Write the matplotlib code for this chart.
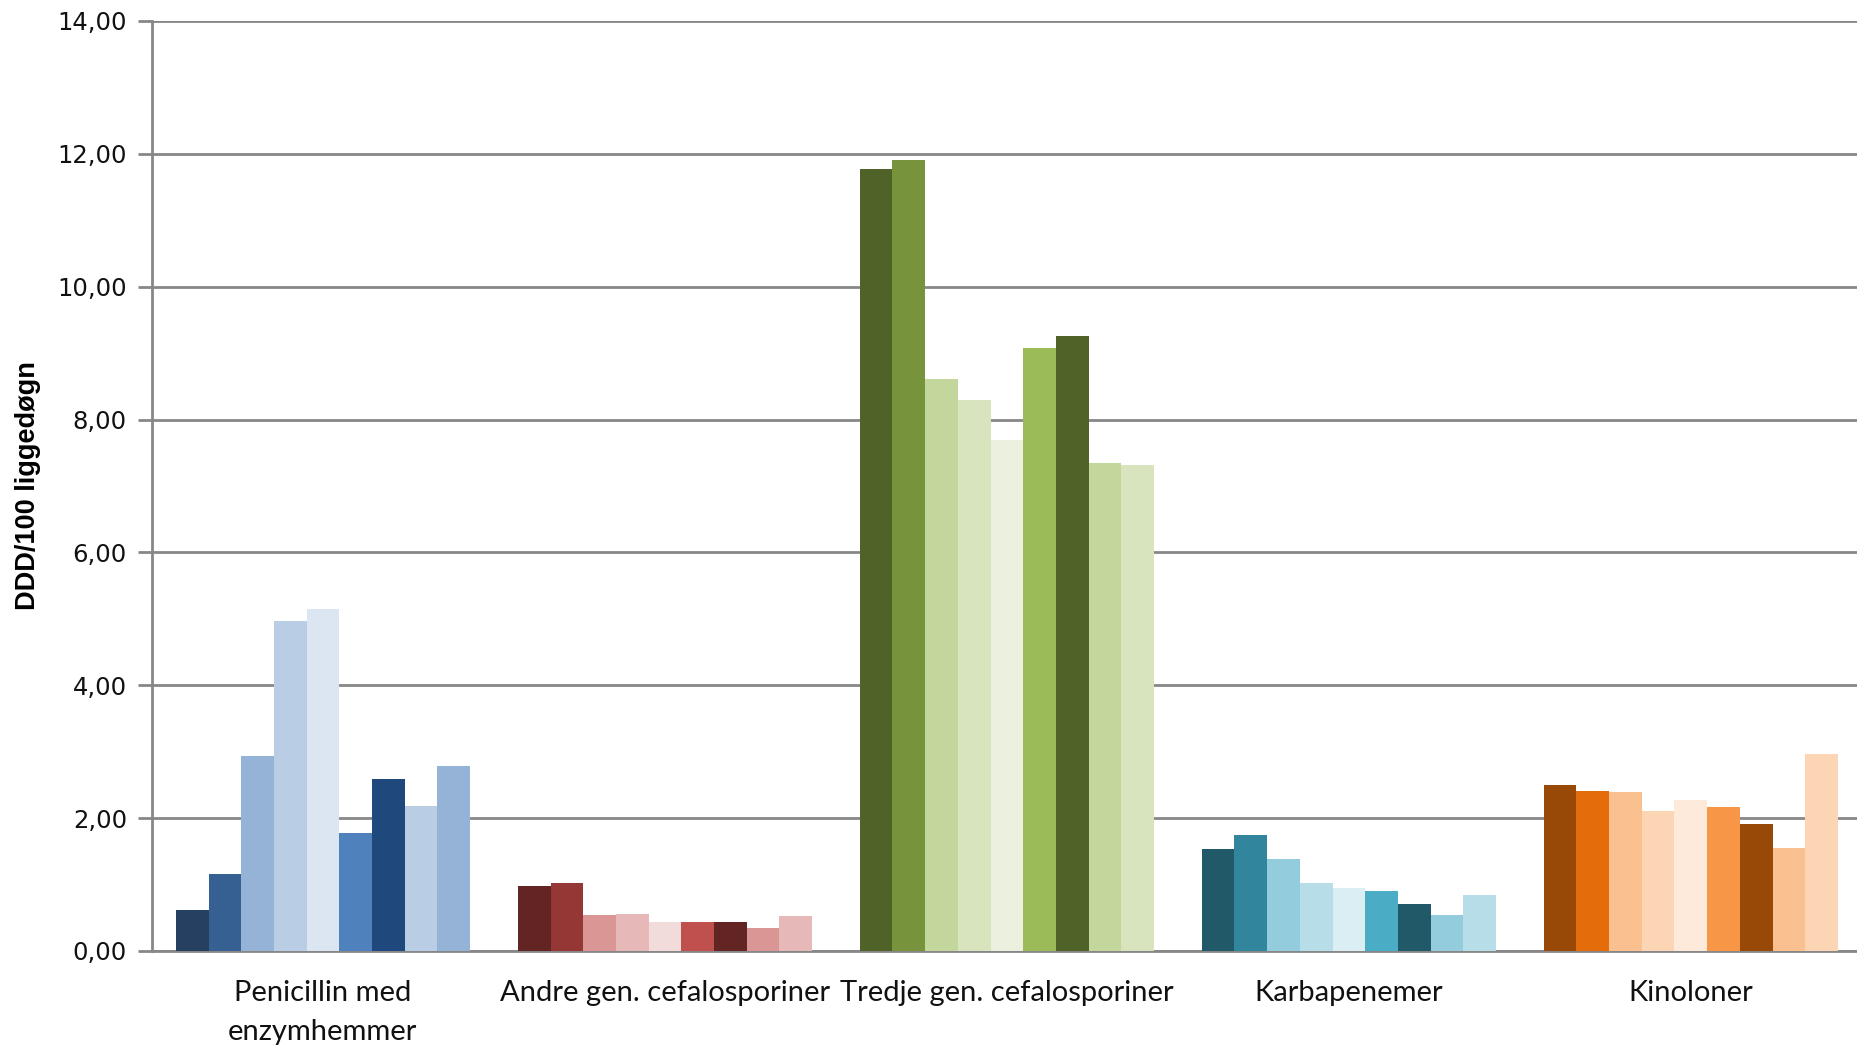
import numpy as np
import matplotlib.pyplot as plt
from matplotlib import font_manager

# Categories and values (9 bars per category)
categories = ['Penicillin med\nenzymhemmer', 'Andre gen. cefalosporiner',
              'Tredje gen. cefalosporiner', 'Karbapenemer', 'Kinoloner']

penicillin = [0.62, 1.16, 2.94, 4.96, 5.15, 1.77, 2.59, 2.18, 2.78]
andre_gen = [0.98, 1.02, 0.54, 0.55, 0.43, 0.43, 0.43, 0.34, 0.52]
tredje_gen = [11.77, 11.91, 8.61, 8.29, 7.69, 9.08, 9.26, 7.35, 7.31]
karbapenemer = [1.53, 1.75, 1.39, 1.02, 0.95, 0.91, 0.71, 0.54, 0.84]
kinoloner = [2.50, 2.41, 2.39, 2.10, 2.27, 2.16, 1.91, 1.55, 2.96]

values = [penicillin, andre_gen, tredje_gen, karbapenemer, kinoloner]

# One palette per category
palettes = [
    ['#254061', '#366092', '#95B3D7', '#B9CDE5', '#DCE6F2', '#4F81BD', '#1F497D', '#B9CDE5', '#95B3D7'],
    ['#632523', '#953735', '#D99694', '#E6B9B8', '#F2DCDB', '#C0504D', '#632523', '#D99694', '#E6B9B8'],
    ['#4F6228', '#77933C', '#C3D69B', '#D7E4BD', '#EBF1DE', '#9BBB59', '#4F6228', '#C3D69B', '#D7E4BD'],
    ['#215968', '#31859C', '#93CDDD', '#B7DEE8', '#DBEEF4', '#4BACC6', '#215968', '#93CDDD', '#B7DEE8'],
    ['#984807', '#E46C0A', '#FAC090', '#FCD5B5', '#FDEADA', '#F79646', '#984807', '#FAC090', '#FCD5B5'],
]

names = {f.name for f in font_manager.fontManager.ttflist}
label_font = ['Lato', 'DejaVu Sans'] if 'Lato' in names else ['DejaVu Sans']
tick_font = ['DejaVu Sans']
ylab_font = ['Liberation Sans Narrow', 'Liberation Sans', 'DejaVu Sans']

fig = plt.figure(figsize=(18.57, 10.47), dpi=100)
ax = fig.add_axes([0.0818, 0.0917, 0.9208, 0.8883])

n = len(penicillin)
width = 0.86 / n
x = np.arange(len(categories))
for i, (vals, cols) in enumerate(zip(values, palettes)):
    offsets = (np.arange(n) - (n - 1) / 2) * width
    ax.bar(x[i] + offsets, vals, width=width, color=cols, zorder=3)

ax.set_xlim(-0.5, len(categories) - 0.5)
ax.set_ylim(0, 14)
ax.set_yticks(np.arange(0, 15, 2))
ax.set_yticklabels([f'{v:.2f}'.replace('.', ',') for v in np.arange(0, 15, 2)],
                   family=tick_font, fontsize=17.5, color='#111111')
ax.set_xticks(x)
ax.set_xticklabels(categories, family=label_font, fontsize=21, color='#111111',
                   linespacing=1.6)
ax.tick_params(axis='x', length=0, pad=21)
ax.tick_params(axis='y', length=10, width=2, color='#878787', pad=8)

ax.grid(axis='y', color='#878787', linewidth=2, zorder=0)
for side in ['top', 'right']:
    ax.spines[side].set_visible(False)
for side in ['left', 'bottom']:
    ax.spines[side].set_color('#878787')
    ax.spines[side].set_linewidth(2)

ax.set_ylabel('DDD/100 liggedøgn', family=ylab_font, fontsize=19.5,
              fontweight='bold', labelpad=12)

fig.savefig('out.png', dpi=100)
